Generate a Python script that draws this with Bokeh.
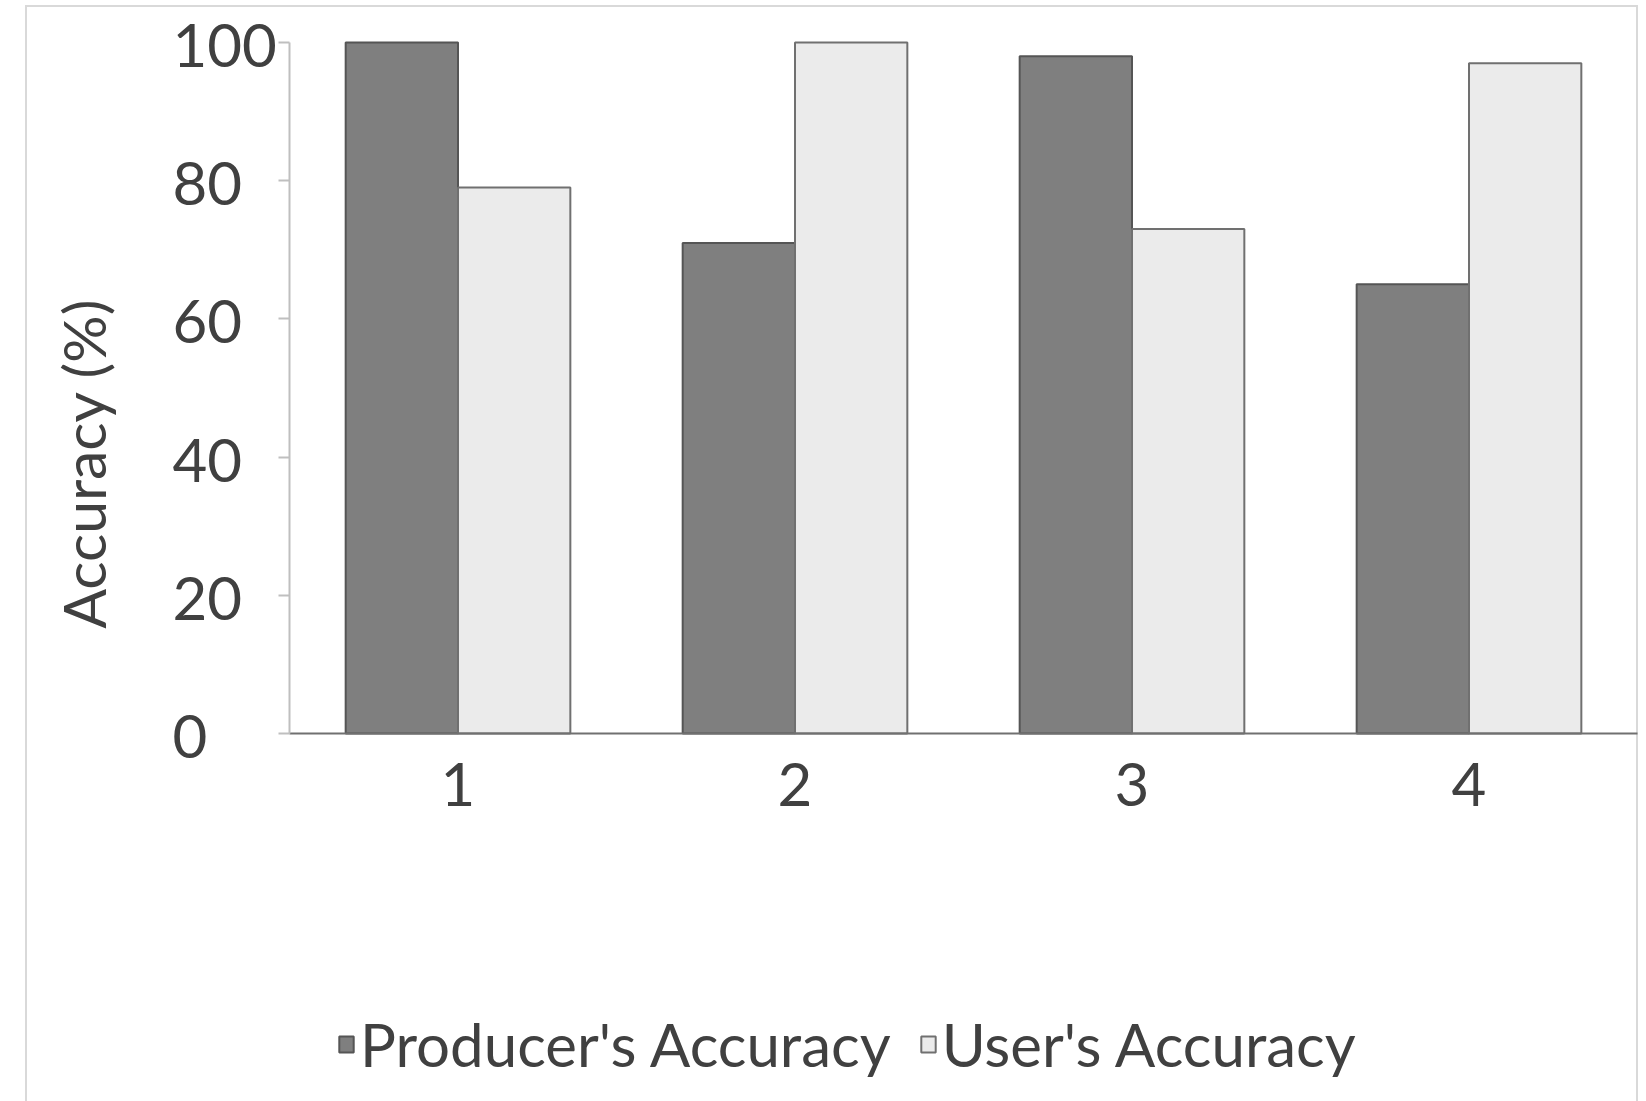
from math import pi

from bokeh.core.properties import value
from bokeh.embed import file_html
from bokeh.resources import INLINE
from bokeh.plotting import figure
from bokeh.models import (ColumnDataSource, Range1d, FixedTicker, Legend,
                          LegendItem, Label)

# Accuracy per class (%)
classes = ["1", "2", "3", "4"]
producers_accuracy = [100, 71, 98, 65]
users_accuracy = [79, 100, 73, 97]
y_ticks = [0, 20, 40, 60, 80, 100]

FONT = "Lato"
TEXT = "#404040"
FRAME = "#d9d9d9"
BAR_W = 1 / 3

pos = list(range(1, len(classes) + 1))
source = ColumnDataSource(dict(
    x_prod=[x - BAR_W / 2 for x in pos],
    x_user=[x + BAR_W / 2 for x in pos],
    prod=producers_accuracy,
    user=users_accuracy,
))

# light chart-area border painted behind a transparent canvas
border_css = (
    f"linear-gradient({FRAME},{FRAME}) 25px 5px / 2px 1200px no-repeat, "
    f"linear-gradient({FRAME},{FRAME}) 25px 5px / 1613px 2px no-repeat, "
    f"linear-gradient({FRAME},{FRAME}) 1636px 5px / 2px 1200px no-repeat, "
    "white"
)

# the frame fills the whole canvas; axes are pinned inside it
p = figure(width=1646, height=1101,
           x_range=Range1d(-0.3576, 4.5267), y_range=Range1d(-53.26, 106.08),
           output_backend="svg", toolbar_location=None, min_border=0,
           styles={"background": border_css})
p.outline_line_color = None
p.xgrid.visible = False
p.ygrid.visible = False
p.background_fill_color = None
p.border_fill_color = None

r_prod = p.vbar(x="x_prod", top="prod", width=BAR_W, source=source,
                fill_color="#7f7f7f", line_color="#555555", line_width=2)
r_user = p.vbar(x="x_user", top="user", width=BAR_W, source=source,
                fill_color="#ebebeb", line_color="#707070", line_width=2)

# y axis (its numbers are drawn below as left-aligned text)
ya = p.yaxis[0]
ya.fixed_location = 0.5
ya.bounds = (0, 100)
ya.ticker = FixedTicker(ticks=y_ticks)
ya.major_label_overrides = {t: "" for t in y_ticks}
ya.axis_line_color = "#bfbfbf"
ya.axis_line_width = 2
ya.major_tick_line_color = "#bfbfbf"
ya.major_tick_line_width = 2
ya.major_tick_out = 11
ya.major_tick_in = 0
ya.minor_tick_line_color = None

tick_src = ColumnDataSource(dict(y=y_ticks, label=[str(t) for t in y_ticks],
                                 x=[0.1528] * len(y_ticks)))
p.text(x="x", y="y", text="label", source=tick_src, text_align="left",
       text_baseline="middle", y_offset=3, text_font=value(FONT),
       text_font_size="60px", text_color=TEXT)

# x axis
xa = p.xaxis[0]
xa.fixed_location = 0
xa.bounds = (0.5, 4.5)
xa.ticker = FixedTicker(ticks=pos)
xa.major_label_overrides = {x: c for x, c in zip(pos, classes)}
xa.axis_line_color = "#707070"
xa.axis_line_width = 2
xa.major_tick_line_color = None
xa.minor_tick_line_color = None
xa.major_tick_out = 0
xa.major_tick_in = 0
xa.major_label_standoff = 30
xa.major_label_text_font = FONT
xa.major_label_text_font_size = "60px"
xa.major_label_text_color = TEXT

# y axis title
p.add_layout(Label(x=83, y=638, x_units="screen", y_units="screen",
                   text="Accuracy (%)", angle=pi / 2, text_align="center",
                   text_baseline="middle", text_font=FONT, text_font_size="59px",
                   text_color=TEXT))

legend = Legend(items=[LegendItem(label="Producer's Accuracy", renderers=[r_prod]),
                       LegendItem(label="User's Accuracy", renderers=[r_user])],
                location=(337, 21), orientation="horizontal",
                label_text_font=FONT, label_text_font_size="60px",
                label_text_color=TEXT, glyph_width=18, glyph_height=20,
                label_standoff=5, spacing=28, padding=0, margin=0,
                border_line_color=None, background_fill_alpha=0)
p.add_layout(legend, "center")

open("out.html", "w").write(file_html(p, INLINE))
